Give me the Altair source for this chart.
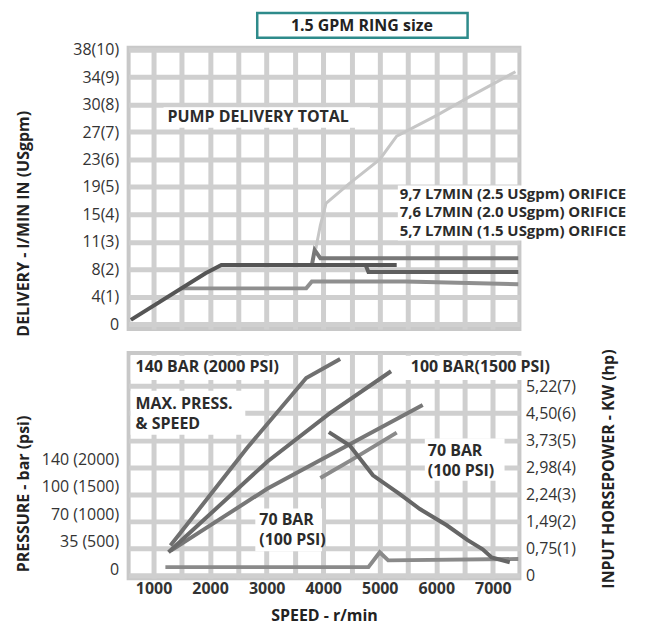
import json
import altair as alt
import pandas as pd

FONT = "Open Sans"

# ---------------- axes / ticks ----------------
speed_domain = [560, 7470]
speed_grid = list(range(1000, 7001, 500))

gpm_ticks = list(range(0, 11))
delivery_labels = ["0", "4(1)", "8(2)", "11(3)", "15(4)", "19(5)", "23(6)",
                   "27(7)", "30(8)", "34(9)", "38(10)"]

hp_ticks = list(range(0, 8))
hp_labels = ["0", "0,75(1)", "1,49(2)", "2,24(3)", "2,98(4)", "3,73(5)",
             "4,50(6)", "5,22(7)"]

psi_ticks = [0, 500, 1000, 1500, 2000]
pressure_labels = ["0", "35 (500)", "70 (1000)", "100 (1500)", "140 (2000)"]

# ---------------- delivery curves (rpm, USgpm) ----------------
main_rpm = [600, 1920, 2200, 5300]
main_gpm = [0.15, 1.85, 2.15, 2.15]
orif25_rpm = [3800, 3850, 3950, 7450]
orif25_gpm = [2.15, 2.7, 2.4, 2.4]
orif20_rpm = [4750, 4800, 7450]
orif20_gpm = [2.15, 1.9, 1.9]
orif15_rpm = [1480, 3700, 3800, 5450, 7450]
orif15_gpm = [1.3, 1.3, 1.55, 1.55, 1.45]
total_rpm = [3870, 3950, 4050, 4450, 5000, 5300, 6000, 6600, 7400]
total_gpm = [2.75, 3.6, 4.4, 5.1, 6.0, 6.85, 7.6, 8.3, 9.2]

# ---------------- power curves (rpm, hp) ----------------
p140_rpm = [1300, 2650, 3700, 4300]
p140_hp = [1.1, 4.7, 7.3, 8.0]
p100_rpm = [1265, 3010, 4120, 5200]
p100_hp = [0.85, 4.2, 6.0, 7.55]
p70a_rpm = [1300, 3010, 4470, 5760]
p70a_hp = [0.9, 3.2, 4.85, 6.3]
p70b_rpm = [3950, 4510, 5300]
p70b_hp = [3.6, 4.28, 5.28]
max_rpm = [4100, 4470, 4880, 5355, 5710, 6185, 6555, 6820, 6980, 7300]
max_hp = [5.3, 4.8, 3.7, 3.0, 2.45, 1.85, 1.3, 0.96, 0.66, 0.48]
idle_rpm = [1210, 4800, 5000, 5150, 7450]
idle_hp = [0.3, 0.3, 0.85, 0.55, 0.6]


def series(name, xs, ys, shade, w):
    return [{"s": name, "rpm": x, "v": y, "o": i, "c": shade, "w": w}
            for i, (x, y) in enumerate(zip(xs, ys))]


top_lines = pd.DataFrame(
    series("total", total_rpm, total_gpm, "#c6c6c6", 3)
    + series("1.5", orif15_rpm, orif15_gpm, "#8f8f8f", 4)
    + series("2.5", orif25_rpm, orif25_gpm, "#787878", 4)
    + series("2.0", orif20_rpm, orif20_gpm, "#5f5f5f", 4)
    + series("main", main_rpm, main_gpm, "#555555", 4)
)
bot_lines = pd.DataFrame(
    series("idle", idle_rpm, idle_hp, "#8a8a8a", 4)
    + series("p70b", p70b_rpm, p70b_hp, "#8a8a8a", 4)
    + series("p70a", p70a_rpm, p70a_hp, "#777777", 4)
    + series("p100", p100_rpm, p100_hp, "#6a6a6a", 4)
    + series("p140", p140_rpm, p140_hp, "#707070", 4)
    + series("max", max_rpm, max_hp, "#666666", 4)
)

# ---------------- annotations ----------------
top_text = pd.DataFrame({
    "t": ["PUMP DELIVERY TOTAL", "9,7 L7MIN (2.5 USgpm) ORIFICE",
          "7,6 L7MIN (2.0 USgpm) ORIFICE", "5,7 L7MIN (1.5 USgpm) ORIFICE"],
    "rpm": [1248, 5355, 5355, 5355],
    "v": [7.53, 4.75, 4.07, 3.39],
    "fs": [16, 15, 15, 15],
})
top_boxes = pd.DataFrame({
    "r1": [1177, 5320], "r2": [4827, 9763],
    "v1": [7.16, 3.05], "v2": [7.9, 5.05],
})
bot_text = pd.DataFrame({
    "t": ["140 BAR (2000 PSI)", "100 BAR(1500 PSI)", "MAX. PRESS.", "& SPEED",
          "70 BAR", "(100 PSI)", "70 BAR", "(100 PSI)"],
    "rpm": [683, 5550, 683, 683, 2870, 2870, 5850, 5850],
    "v": [7.71, 7.71, 6.35, 5.61, 2.03, 1.29, 4.61, 3.87],
})
bot_boxes = pd.DataFrame({
    "r1": [595, 5443, 595, 2800, 5797],
    "r2": [3416, 8000, 2623, 3980, 7207],
    "v1": [7.23, 7.23, 5.2, 0.89, 3.5],
    "v2": [8.12, 8.12, 6.83, 2.47, 5.06],
})

GRID = "#cfcfcf"
LBL = "#333333"

xscale = alt.Scale(domain=speed_domain, nice=False, zero=False)
top_y = alt.Scale(domain=[-0.18, 10.07], nice=False, zero=False)
hp_y = alt.Scale(domain=[-0.11, 8.23], nice=False, zero=False)
psi_y = alt.Scale(domain=[-164, 3945], nice=False, zero=False)

x_top_axis = alt.Axis(values=speed_grid, grid=True, gridColor=GRID, gridWidth=5,
                      labels=False, ticks=False, domain=False, title=None)
x_bot_axis = alt.Axis(values=speed_grid, grid=True, gridColor=GRID, gridWidth=5,
                      ticks=False, domain=False, labelOverlap=False, labelFlush=False,
                      labelExpr="datum.value % 1000 == 0 ? '' + datum.value : ''",
                      labelFontSize=16, labelFontWeight="bold", labelColor=LBL,
                      labelPadding=2,
                      title="SPEED - r/min", titleFontSize=16, titleFontWeight="bold",
                      titleColor="#222222", titleY=37, titleBaseline="middle")

y_top_axis = alt.Axis(values=gpm_ticks, grid=True, gridColor=GRID, gridWidth=5,
                      ticks=False, domain=False, labelOverlap=False,
                      labelExpr=json.dumps(delivery_labels) + "[datum.value]",
                      labelFontSize=16, labelColor=LBL, labelPadding=10,
                      title="DELIVERY - l/MIN IN (USgpm)", titleFontSize=16,
                      titleFontWeight="bold", titleColor="#222222", titleAngle=270,
                      titleX=-105, titleY=176, titleAlign="center",
                      titleBaseline="middle")

hp_axis = alt.Axis(values=hp_ticks, orient="right", grid=True, gridColor=GRID,
                   gridWidth=5, ticks=False, domain=False, labelOverlap=False,
                   labelExpr=json.dumps(hp_labels) + "[datum.value]",
                   labelFontSize=16, labelColor=LBL, labelPadding=6,
                   title="INPUT HORSEPOWER - KW (hp)", titleFontSize=16,
                   titleFontWeight="bold", titleColor="#222222", titleAngle=270,
                   titleX=89, titleY=116, titleAlign="center", titleBaseline="middle")

psi_axis = alt.Axis(values=psi_ticks, orient="left", grid=False, ticks=False,
                    domain=False, labelOverlap=False,
                    labelExpr=json.dumps(pressure_labels) + "[datum.value / 500]",
                    labelFontSize=16, labelColor=LBL, labelPadding=10,
                    title="PRESSURE - bar (psi)", titleFontSize=16,
                    titleFontWeight="bold", titleColor="#222222", titleAngle=270,
                    titleX=-105, titleY=141, titleAlign="center",
                    titleBaseline="middle")

# ---------------- top panel ----------------
t_boxes = alt.Chart(top_boxes).mark_rect(color="white").encode(
    x=alt.X("r1:Q", scale=xscale, axis=x_top_axis),
    x2="r2:Q",
    y=alt.Y("v1:Q", scale=top_y, axis=y_top_axis),
    y2="v2:Q",
)
t_lines = alt.Chart(top_lines).mark_line(strokeJoin="miter").encode(
    x=alt.X("rpm:Q", scale=xscale, axis=x_top_axis),
    y=alt.Y("v:Q", scale=top_y, axis=y_top_axis),
    detail="s:N",
    order="o:Q",
    color=alt.Color("c:N", scale=None),
    strokeWidth=alt.StrokeWidth("w:Q", scale=None),
)
t_text = alt.Chart(top_text).mark_text(
    align="left", baseline="middle", fontWeight="bold",
    color="#2b2b2b", font=FONT,
).encode(
    x=alt.X("rpm:Q", scale=xscale, axis=x_top_axis),
    y=alt.Y("v:Q", scale=top_y, axis=y_top_axis),
    text="t:N",
    size=alt.Size("fs:Q", scale=None),
)
title_box = alt.Chart(pd.DataFrame({"t": ["1.5 GPM RING size"]})).mark_rect(
    fill="white", stroke="#2e8b8b", strokeWidth=2.5
).encode(x=alt.value(129), x2=alt.value(340), y=alt.value(-35), y2=alt.value(-10))
title_txt = alt.Chart(pd.DataFrame({"t": ["1.5 GPM RING size"]})).mark_text(
    fontSize=16, fontWeight="bold", color="#222222", font=FONT,
    align="center", baseline="middle",
).encode(x=alt.value(234), y=alt.value(-22), text="t:N")

top = alt.layer(t_boxes, t_lines, t_text, title_box, title_txt).properties(
    width=392, height=282
)

# ---------------- bottom panel ----------------
b_psi = alt.Chart(pd.DataFrame({"psi": psi_ticks})).mark_point(opacity=0).encode(
    y=alt.Y("psi:Q", scale=psi_y, axis=psi_axis),
)
b_boxes = alt.Chart(bot_boxes).mark_rect(color="white").encode(
    x=alt.X("r1:Q", scale=xscale, axis=x_bot_axis),
    x2="r2:Q",
    y=alt.Y("v1:Q", scale=hp_y, axis=hp_axis),
    y2="v2:Q",
)
b_lines = alt.Chart(bot_lines).mark_line(strokeJoin="miter").encode(
    x=alt.X("rpm:Q", scale=xscale, axis=x_bot_axis),
    y=alt.Y("v:Q", scale=hp_y, axis=hp_axis),
    detail="s:N",
    order="o:Q",
    color=alt.Color("c:N", scale=None),
    strokeWidth=alt.StrokeWidth("w:Q", scale=None),
)
b_text = alt.Chart(bot_text).mark_text(
    align="left", baseline="middle", fontSize=16, fontWeight="bold",
    color="#2b2b2b", font=FONT,
).encode(
    x=alt.X("rpm:Q", scale=xscale, axis=x_bot_axis),
    y=alt.Y("v:Q", scale=hp_y, axis=hp_axis),
    text="t:N",
)
hp_layers = alt.layer(b_boxes, b_lines, b_text)
bottom = alt.layer(b_psi, hp_layers).resolve_scale(y="independent").properties(
    width=392, height=226
)

chart = alt.vconcat(top, bottom, spacing=7).properties(
    padding={"left": 6, "top": 0, "right": 5, "bottom": 5}
).configure(font=FONT).configure_axis(
    labelOverlap=False, labelFlush=False
).configure_view(stroke="#c8c8c8", strokeWidth=4)

chart.save("out.html", embed_options={"renderer": "svg", "actions": False})
